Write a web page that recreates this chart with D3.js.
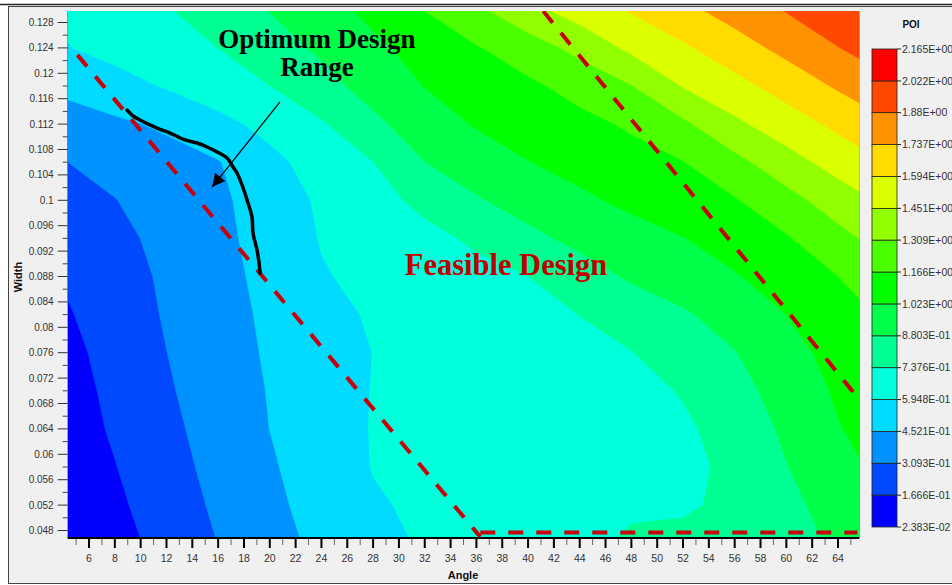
<!DOCTYPE html>
<html><head><meta charset="utf-8">
<script src="https://cdn.jsdelivr.net/npm/d3@7"></script>
<style>html,body{margin:0;padding:0;background:#fff;} svg{display:block}</style>
</head><body>
<svg id="chart" width="952" height="585"></svg>
<script>
// ---------- data ----------
const gridAngles = [4,8,12,16,20,24,28,32,36,40,44,48,52,56,60,64,68];
const gridWidths = [0.130,0.124,0.118,0.112,0.106,0.100,0.094,0.088,0.082,0.076,0.070,0.064,0.058,0.052,0.046];
const poiGrid = [
 [0.620,0.674,0.728,0.805,0.886,0.967,1.058,1.169,1.280,1.409,1.515,1.607,1.702,1.796,1.889,1.982,2.015],
 [0.585,0.639,0.688,0.738,0.820,0.904,0.993,1.076,1.156,1.243,1.349,1.481,1.573,1.675,1.777,1.876,1.974],
 [0.480,0.542,0.606,0.671,0.737,0.834,0.932,1.027,1.083,1.140,1.214,1.304,1.458,1.549,1.649,1.754,1.844],
 [0.392,0.427,0.474,0.554,0.636,0.723,0.851,0.953,1.034,1.081,1.128,1.185,1.284,1.423,1.528,1.624,1.723],
 [0.305,0.353,0.399,0.445,0.558,0.653,0.736,0.879,0.950,1.020,1.068,1.115,1.162,1.269,1.394,1.507,1.604],
 [0.263,0.306,0.366,0.427,0.515,0.616,0.690,0.772,0.868,0.935,0.998,1.054,1.105,1.156,1.261,1.376,1.483],
 [0.220,0.277,0.343,0.417,0.506,0.602,0.651,0.700,0.759,0.847,0.914,0.966,1.019,1.085,1.153,1.267,1.372],
 [0.176,0.252,0.330,0.407,0.491,0.585,0.627,0.664,0.700,0.737,0.821,0.897,0.955,1.012,1.087,1.166,1.293],
 [0.148,0.235,0.321,0.399,0.477,0.553,0.609,0.642,0.674,0.706,0.739,0.801,0.863,0.940,1.023,1.104,1.193],
 [0.122,0.215,0.308,0.390,0.468,0.533,0.596,0.624,0.651,0.679,0.707,0.734,0.802,0.875,0.980,1.064,1.132],
 [0.105,0.199,0.294,0.378,0.459,0.533,0.599,0.622,0.646,0.669,0.692,0.716,0.742,0.832,0.937,1.040,1.098],
 [0.092,0.184,0.276,0.366,0.453,0.536,0.601,0.623,0.645,0.666,0.688,0.710,0.728,0.761,0.913,1.016,1.081],
 [0.067,0.162,0.258,0.350,0.436,0.523,0.599,0.620,0.641,0.662,0.684,0.705,0.728,0.746,0.875,0.978,1.065],
 [0.043,0.140,0.237,0.332,0.421,0.503,0.583,0.614,0.637,0.660,0.683,0.706,0.729,0.751,0.847,0.933,1.036],
 [0.030,0.115,0.213,0.311,0.401,0.484,0.558,0.607,0.633,0.659,0.684,0.770,0.755,0.784,0.836,0.896,0.996]
];
const poiLevels = [0.02383,0.1666,0.3093,0.4521,0.5948,0.7376,0.8803,1.023,1.166,1.309,1.451,1.594,1.737,1.88,2.022,2.165];
const poiLevelLabels = ["2.383E-02","1.666E-01","3.093E-01","4.521E-01","5.948E-01","7.376E-01","8.803E-01","1.023E+00","1.166E+00","1.309E+00","1.451E+00","1.594E+00","1.737E+00","1.88E+00","2.022E+00","2.165E+00"];
const bandColors = ["#0000FF","#0049FF","#0092FF","#00DBFF","#00FFDB","#00FF92","#00FF49","#00FF00","#49FF00","#92FF00","#DBFF00","#FFDB00","#FF9200","#FF4900","#FF0000"];
const xMajorTicks = [6,8,10,12,14,16,18,20,22,24,26,28,30,32,34,36,38,40,42,44,46,48,50,52,54,56,58,60,62,64];
const xMinorTicks = [5,7,9,11,13,15,17,19,21,23,25,27,29,31,33,35,37,39,41,43,45,47,49,51,53,55,57,59,61,63,65];
const yMajorTicks = [0.048,0.052,0.056,0.06,0.064,0.068,0.072,0.076,0.08,0.084,0.088,0.092,0.096,0.1,0.104,0.108,0.112,0.116,0.12,0.124,0.128];
const yMinorTicks = [0.05,0.054,0.058,0.062,0.066,0.07,0.074,0.078,0.082,0.086,0.09,0.094,0.098,0.102,0.106,0.11,0.114,0.118,0.122,0.126];
const lowerBoundLine = [[5.1,0.1229],[36.3,0.0470]];
const bottomBoundLine = [[36.3,0.0477],[65.5,0.0477]];
const upperBoundLine = [[41.17,0.1298],[65.18,0.0698]];
const optimumCurve = [[8.94,0.11422],[9.33,0.11343],[9.95,0.11264],[11.27,0.11138],[12.27,0.11059],[13.44,0.10950],[14.37,0.10902],[15.14,0.10839],[15.92,0.10761],[16.69,0.10666],[17.16,0.10524],[17.46,0.10430],[17.85,0.10241],[18.24,0.10005],[18.62,0.09737],[18.70,0.09485],[19.01,0.09217],[19.17,0.09012],[19.25,0.08855]];
const arrowLine = [[20.79,0.11548],[15.53,0.10209]];

// ---------- layout ----------
const svg = d3.select("#chart");
const P = {left:67.7, right:859.3, top:11, bottom:538};
const x = d3.scaleLinear().domain([4.35,65.65]).range([P.left,P.right]);
const y = d3.scaleLinear().domain([0.04682,0.12981]).range([P.bottom,P.top]);

// frame
svg.append("rect").attr("x",0).attr("y",0).attr("width",952).attr("height",585).attr("fill","#ffffff");
svg.append("rect").attr("x",8.5).attr("y",6.5).attr("width",950).attr("height",577).attr("fill","#f0f0f0").attr("stroke","#444").attr("stroke-width",1);
svg.append("line").attr("x1",0).attr("x2",952).attr("y1",4.5).attr("y2",4.5).attr("stroke","#222").attr("stroke-width",1.5);

const defs = svg.append("defs");
defs.append("clipPath").attr("id","plotclip").append("rect")
  .attr("x",P.left).attr("y",P.top).attr("width",P.right-P.left).attr("height",P.bottom-P.top);
defs.append("marker").attr("id","ahead").attr("viewBox","0 0 10 10").attr("refX",10).attr("refY",5)
  .attr("markerWidth",17).attr("markerHeight",13).attr("markerUnits","userSpaceOnUse").attr("orient","auto")
  .append("path").attr("d","M0,0L10,5L0,10z").attr("fill","#000");

// contours
const nx = gridAngles.length, ny = gridWidths.length;
const values = poiGrid.flat();
const gx = d3.scaleLinear().domain([0.5,nx-0.5]).range([x(gridAngles[0]),x(gridAngles[nx-1])]);
const gy = d3.scaleLinear().domain([0.5,ny-0.5]).range([y(gridWidths[0]),y(gridWidths[ny-1])]);
const proj = d3.geoTransform({point(px,py){ this.stream.point(gx(px),gy(py)); }});
const gpath = d3.geoPath(proj);
const contours = d3.contours().size([nx,ny]).thresholds(poiLevels.slice(0,-1))(values);
const plot = svg.append("g").attr("clip-path","url(#plotclip)");
plot.append("rect").attr("x",P.left).attr("y",P.top).attr("width",P.right-P.left).attr("height",P.bottom-P.top).attr("fill",bandColors[0]);
plot.selectAll("path.band").data(contours).join("path").attr("class","band")
  .attr("d",gpath).attr("fill",(d,i)=>bandColors[i]).attr("stroke",(d,i)=>bandColors[i]).attr("stroke-width",0.6);

// dashed boundaries
const line = d3.line().x(d=>x(d[0])).y(d=>y(d[1]));
[lowerBoundLine,bottomBoundLine,upperBoundLine].forEach(L=>{
  plot.append("path").attr("d",line(L)).attr("fill","none").attr("stroke","#C8000A")
    .attr("stroke-width",4).attr("stroke-dasharray","15,13");
});
// optimum curve
svg.append("path").attr("d",d3.line().x(d=>x(d[0])).y(d=>y(d[1])).curve(d3.curveCatmullRom)(optimumCurve))
  .attr("fill","none").attr("stroke","#000").attr("stroke-width",3.5).attr("stroke-linecap","round").attr("stroke-linejoin","round");
// arrow
svg.append("path").attr("d",line(arrowLine)).attr("stroke","#000").attr("stroke-width",1.2).attr("fill","none").attr("marker-end","url(#ahead)");

// annotations
svg.append("text").attr("x",317).attr("y",48).attr("text-anchor","middle")
  .attr("font-family","'Liberation Serif','Times New Roman',serif").attr("font-weight","bold").attr("font-size",27).attr("fill","#000").text("Optimum Design");
svg.append("text").attr("x",317).attr("y",76).attr("text-anchor","middle")
  .attr("font-family","'Liberation Serif','Times New Roman',serif").attr("font-weight","bold").attr("font-size",27).attr("fill","#000").text("Range");
svg.append("text").attr("x",506).attr("y",275).attr("text-anchor","middle")
  .attr("font-family","'Liberation Serif','Times New Roman',serif").attr("font-weight","bold").attr("font-size",30.5).attr("fill","#C00000").text("Feasible Design");

// x axis
const axFont = "'Liberation Sans',Arial,sans-serif";
const xg = svg.append("g");
xg.selectAll("line.mn").data(xMinorTicks).join("line").attr("class","mn")
  .attr("x1",d=>x(d)).attr("x2",d=>x(d)).attr("y1",P.bottom).attr("y2",P.bottom+7).attr("stroke","#666").attr("stroke-width",1);
xg.selectAll("line.mj").data(xMajorTicks).join("line").attr("class","mj")
  .attr("x1",d=>x(d)).attr("x2",d=>x(d)).attr("y1",P.bottom).attr("y2",P.bottom+10).attr("stroke","#000").attr("stroke-width",2);
xg.selectAll("text").data(xMajorTicks).join("text")
  .attr("x",d=>x(d)).attr("y",P.bottom+24).attr("text-anchor","middle")
  .attr("font-family",axFont).attr("font-size",10.5).attr("fill","#333").text(d=>d);
xg.append("line").attr("x1",P.left).attr("x2",P.right).attr("y1",P.bottom).attr("y2",P.bottom).attr("stroke","#000").attr("stroke-width",2);
svg.append("text").attr("x",463).attr("y",579).attr("text-anchor","middle").attr("font-family",axFont)
  .attr("font-weight","bold").attr("font-size",11).attr("fill","#111").text("Angle");

// y axis
const yg = svg.append("g");
yg.selectAll("line.mn").data(yMinorTicks).join("line").attr("class","mn")
  .attr("x1",P.left-5).attr("x2",P.left).attr("y1",d=>y(d)).attr("y2",d=>y(d)).attr("stroke","#444").attr("stroke-width",1);
yg.selectAll("line.mj").data(yMajorTicks).join("line").attr("class","mj")
  .attr("x1",P.left-10).attr("x2",P.left).attr("y1",d=>y(d)).attr("y2",d=>y(d)).attr("stroke","#333").attr("stroke-width",1);
yg.selectAll("text").data(yMajorTicks).join("text")
  .attr("x",P.left-14).attr("y",d=>y(d)).attr("dy","0.35em").attr("text-anchor","end")
  .attr("font-family",axFont).attr("font-size",10).attr("fill","#333").text(d=>String(+d.toFixed(3)));
svg.append("text").attr("transform","translate(22,277) rotate(-90)").attr("text-anchor","middle")
  .attr("font-family",axFont).attr("font-weight","bold").attr("font-size",11).attr("fill","#111").text("Width");

// legend
const L = {x:872, w:25, top:49, bottom:527};
const ly = d3.scaleLinear().domain([poiLevels[0],poiLevels[poiLevels.length-1]]).range([L.bottom,L.top]);
const lg = svg.append("g");
lg.selectAll("rect").data(bandColors).join("rect")
  .attr("x",L.x).attr("width",L.w).attr("y",(d,i)=>ly(poiLevels[i+1])).attr("height",(d,i)=>ly(poiLevels[i])-ly(poiLevels[i+1]))
  .attr("fill",d=>d).attr("stroke","#222").attr("stroke-width",0.8);
lg.selectAll("line").data(poiLevels).join("line")
  .attr("x1",L.x+L.w).attr("x2",L.x+L.w+4).attr("y1",d=>ly(d)).attr("y2",d=>ly(d)).attr("stroke","#222").attr("stroke-width",1);
lg.selectAll("text").data(poiLevels).join("text")
  .attr("x",L.x+L.w+5).attr("y",d=>ly(d)).attr("dy","0.35em").attr("font-family",axFont).attr("font-size",10.5).attr("fill","#333")
  .text((d,i)=>poiLevelLabels[i]);
svg.append("text").attr("x",911).attr("y",28).attr("text-anchor","middle").attr("font-family",axFont)
  .attr("font-weight","bold").attr("font-size",10).attr("fill","#111").text("POI");
</script>
</body></html>
